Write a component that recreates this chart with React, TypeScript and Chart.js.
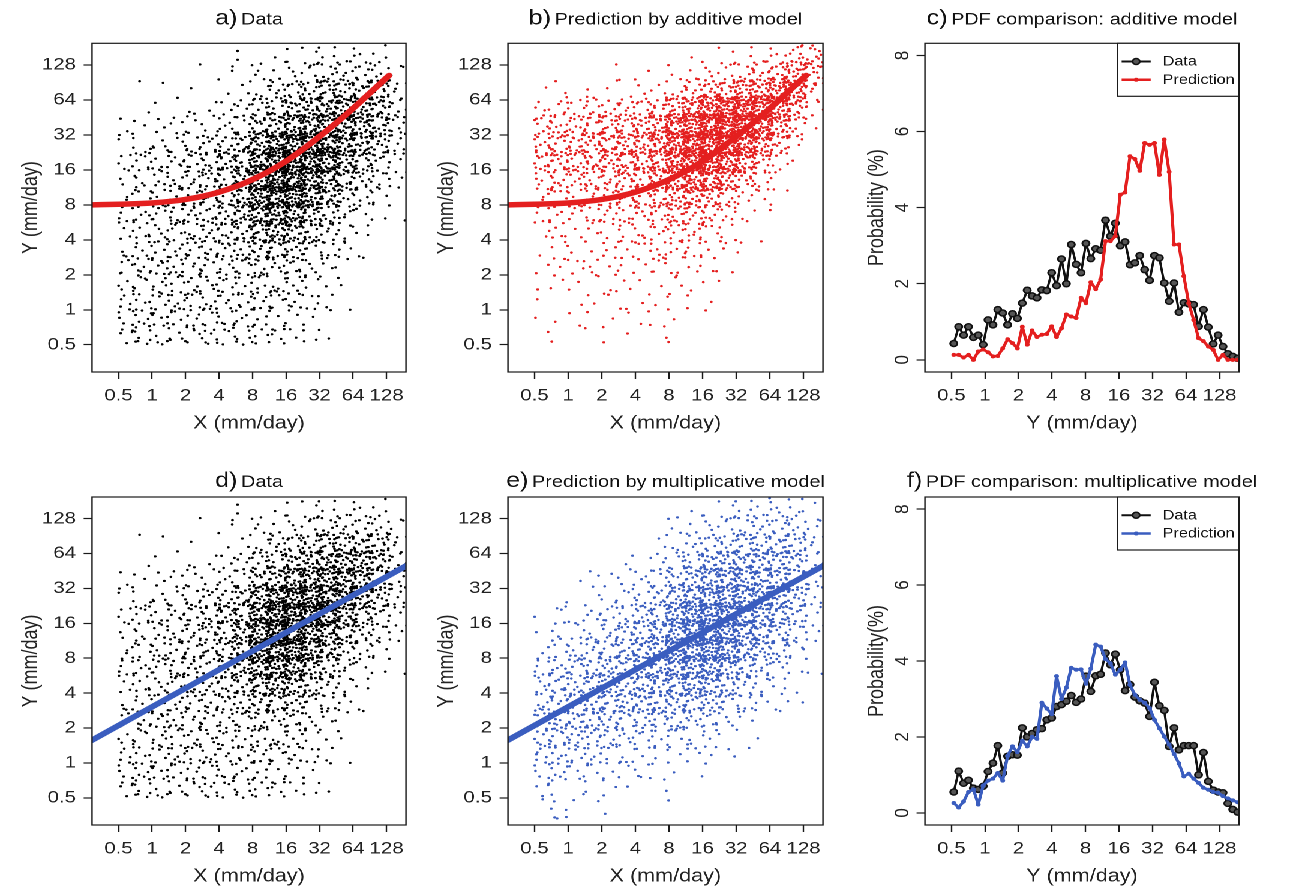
import React, { useEffect, useRef } from "react";
import { Chart, registerables } from "chart.js";

Chart.register(...registerables);

const FONT = "'Liberation Sans', Arial, Helvetica, sans-serif";
Chart.defaults.font.family = FONT;
Chart.defaults.color = "#222";

// ---------------- data ----------------
const LOG_TICKS = [0.5, 1, 2, 4, 8, 16, 32, 64, 128];
const PROB_TICKS = [0, 2, 4, 6, 8];

// 2-D histogram of the scatter clouds (counts per cell)
const X_BIN_EDGES = [0.5, 0.707, 1, 1.414, 2, 2.83, 4, 5.66, 8, 11.3, 16, 22.6, 32, 45.3, 64, 90.5, 128, 181];
const Y_BIN_EDGES = [0.25, 0.354, 0.5, 0.707, 1, 1.414, 2, 2.83, 4, 5.66, 8, 11.3, 16, 22.6, 32, 45.3, 64, 90.5, 128, 181];
const DATA_FLOOR = 0.5; // observed values start at 0.5 mm/day

// rows: top (128-181) to bottom (0.25-0.35); columns: x bins left to right
const DATA_COUNTS = [
  [0, 0, 0, 0, 0, 0, 1, 1, 1, 2, 2, 3, 3, 3, 3, 3, 2],
  [0, 0, 1, 0, 1, 0, 1, 2, 3, 4, 6, 7, 9, 9, 9, 8, 4],
  [0, 1, 0, 1, 1, 1, 2, 3, 6, 8, 12, 14, 18, 18, 18, 15, 7],
  [1, 1, 1, 1, 2, 2, 3, 5, 10, 14, 20, 24, 28, 28, 26, 20, 9],
  [2, 2, 2, 3, 3, 4, 6, 8, 16, 21, 30, 34, 36, 32, 27, 20, 9],
  [4, 4, 5, 6, 7, 8, 11, 15, 30, 39, 47, 50, 46, 30, 23, 16, 7],
  [4, 5, 6, 7, 9, 10, 14, 20, 38, 50, 53, 50, 42, 26, 17, 11, 5],
  [5, 5, 6, 8, 9, 11, 15, 23, 42, 55, 54, 42, 32, 18, 12, 7, 3],
  [5, 6, 7, 8, 9, 10, 14, 22, 40, 50, 46, 32, 22, 12, 7, 4, 2],
  [5, 6, 7, 8, 9, 10, 13, 18, 32, 38, 34, 23, 14, 8, 4, 2, 1],
  [5, 6, 7, 8, 8, 9, 11, 15, 23, 26, 22, 15, 9, 5, 2, 1, 0],
  [5, 6, 7, 7, 8, 8, 9, 10, 13, 14, 12, 8, 6, 3, 1, 0, 0],
  [5, 6, 7, 7, 7, 7, 8, 8, 9, 9, 8, 6, 4, 2, 1, 0, 0],
  [6, 6, 7, 7, 7, 7, 7, 7, 7, 7, 6, 4, 3, 1, 0, 0, 0],
  [6, 6, 6, 7, 6, 6, 6, 6, 6, 6, 5, 3, 2, 1, 0, 0, 0],
  [6, 6, 6, 6, 6, 6, 6, 6, 6, 5, 4, 3, 1, 0, 0, 0, 0],
  [6, 6, 6, 6, 6, 6, 6, 6, 5, 5, 4, 2, 1, 0, 0, 0, 0],
  [0, 0, 0, 0, 0, 0, 0, 0, 0, 0, 0, 0, 0, 0, 0, 0, 0],
  [0, 0, 0, 0, 0, 0, 0, 0, 0, 0, 0, 0, 0, 0, 0, 0, 0],
];

const ADDITIVE_COUNTS = [
  [0, 0, 0, 0, 0, 0, 0, 0, 0, 1, 1, 1, 2, 3, 3, 10, 17],
  [0, 0, 0, 0, 1, 1, 1, 1, 2, 3, 5, 7, 9, 12, 16, 30, 18],
  [1, 2, 2, 2, 2, 2, 3, 4, 7, 12, 18, 24, 30, 34, 36, 34, 10],
  [5, 6, 7, 8, 8, 9, 11, 14, 24, 37, 52, 60, 62, 55, 40, 22, 4],
  [10, 11, 12, 14, 15, 17, 20, 27, 42, 55, 68, 72, 66, 50, 30, 10, 1],
  [12, 13, 15, 17, 19, 21, 24, 31, 50, 62, 68, 64, 50, 32, 15, 3, 0],
  [11, 12, 14, 16, 17, 19, 22, 29, 46, 56, 56, 46, 30, 15, 6, 1, 0],
  [9, 10, 11, 12, 13, 15, 18, 23, 36, 42, 38, 27, 15, 6, 2, 0, 0],
  [6, 7, 8, 9, 10, 11, 13, 16, 21, 23, 19, 12, 6, 3, 1, 0, 0],
  [4, 5, 5, 6, 7, 7, 8, 10, 13, 13, 10, 6, 3, 1, 0, 0, 0],
  [3, 3, 4, 4, 5, 5, 6, 7, 9, 8, 6, 3, 2, 1, 0, 0, 0],
  [2, 3, 3, 3, 4, 4, 4, 5, 6, 5, 4, 2, 1, 0, 0, 0, 0],
  [2, 2, 2, 3, 3, 3, 3, 3, 4, 3, 2, 1, 0, 0, 0, 0, 0],
  [2, 2, 2, 2, 2, 2, 2, 3, 3, 2, 1, 1, 0, 0, 0, 0, 0],
  [1, 1, 2, 2, 2, 2, 2, 2, 2, 1, 1, 0, 0, 0, 0, 0, 0],
  [1, 1, 1, 1, 1, 1, 1, 1, 1, 1, 0, 0, 0, 0, 0, 0, 0],
  [1, 1, 1, 1, 1, 1, 1, 1, 1, 0, 0, 0, 0, 0, 0, 0, 0],
  [0, 0, 0, 0, 0, 0, 0, 0, 0, 0, 0, 0, 0, 0, 0, 0, 0],
  [0, 0, 0, 0, 0, 0, 0, 0, 0, 0, 0, 0, 0, 0, 0, 0, 0],
];

const MULTIPLICATIVE_COUNTS = [
  [0, 0, 0, 0, 0, 0, 0, 0, 1, 1, 2, 3, 4, 5, 6, 5, 3],
  [0, 0, 0, 0, 0, 0, 0, 1, 2, 3, 5, 7, 8, 9, 9, 9, 5],
  [0, 0, 0, 0, 0, 0, 1, 2, 4, 7, 10, 13, 14, 14, 14, 12, 6],
  [0, 0, 0, 0, 1, 1, 2, 4, 7, 12, 18, 21, 22, 20, 18, 15, 7],
  [0, 0, 1, 1, 2, 3, 4, 7, 13, 20, 27, 29, 28, 25, 21, 16, 7],
  [0, 1, 1, 2, 3, 5, 8, 12, 20, 29, 35, 36, 33, 27, 21, 15, 6],
  [1, 2, 3, 4, 6, 8, 12, 17, 31, 41, 47, 46, 34, 26, 19, 12, 5],
  [2, 3, 5, 7, 9, 12, 16, 22, 36, 46, 49, 44, 31, 22, 15, 9, 3],
  [4, 5, 7, 10, 12, 15, 19, 24, 38, 45, 45, 38, 24, 16, 10, 6, 2],
  [5, 8, 10, 12, 15, 17, 20, 24, 30, 33, 31, 25, 17, 11, 6, 3, 1],
  [8, 10, 12, 14, 16, 17, 18, 20, 24, 25, 22, 16, 11, 6, 3, 2, 1],
  [9, 11, 13, 14, 15, 15, 15, 15, 17, 16, 14, 9, 6, 3, 2, 1, 0],
  [10, 11, 12, 12, 12, 11, 11, 10, 11, 10, 7, 5, 3, 1, 1, 0, 0],
  [9, 10, 10, 10, 9, 8, 7, 6, 6, 5, 4, 2, 1, 1, 0, 0, 0],
  [8, 8, 7, 6, 5, 5, 4, 3, 3, 2, 2, 1, 0, 0, 0, 0, 0],
  [6, 5, 5, 4, 3, 2, 2, 1, 1, 1, 1, 0, 0, 0, 0, 0, 0],
  [4, 3, 3, 2, 2, 1, 1, 1, 1, 0, 0, 0, 0, 0, 0, 0, 0],
  [2, 2, 1, 1, 1, 0, 0, 0, 0, 0, 0, 0, 0, 0, 0, 0, 0],
  [1, 1, 1, 0, 0, 0, 0, 0, 0, 0, 0, 0, 0, 0, 0, 0, 0],
];

// fitted model lines
const ADDITIVE_FIT_X = [0.29, 0.5, 1, 2, 4, 8, 16, 32, 64, 100, 135];
const ADDITIVE_FIT_Y = [8.0, 8.1, 8.3, 8.9, 10.3, 13.2, 19, 31, 54, 80, 104];
const MULT_FIT_X = [0.289, 191];
const MULT_FIT_Y = [1.57, 50];

// PDF comparison (bin centres in mm/day, probability in %)
const PDF_BINS = [
  0.525, 0.581, 0.643, 0.711, 0.787, 0.871, 0.964, 1.066, 1.18, 1.305,
  1.444, 1.598, 1.768, 1.957, 2.165, 2.396, 2.651, 2.934, 3.246, 3.592,
  3.975, 4.398, 4.867, 5.385, 5.959, 6.594, 7.296, 8.073, 8.933, 9.885,
  10.94, 12.1, 13.39, 14.82, 16.4, 18.14, 20.08, 22.21, 24.58, 27.2,
  30.1, 33.3, 36.85, 40.78, 45.12, 49.93, 55.25, 61.13, 67.65, 74.85,
  82.83, 91.65, 101.4, 112.2, 124.2, 137.4, 152.0, 168.2, 186.1,
];
const PDF_ADD_DATA = [
  0.43, 0.87, 0.65, 0.87, 0.59, 0.65, 0.4, 1.05, 0.92, 1.32,
  1.23, 0.92, 1.21, 1.09, 1.49, 1.83, 1.68, 1.63, 1.84, 1.82,
  2.29, 1.95, 2.65, 2.0, 3.03, 2.51, 2.29, 3.06, 2.66, 2.92,
  2.88, 3.67, 3.25, 3.59, 3.0, 3.1, 2.5, 2.55, 2.74, 2.37,
  2.09, 2.74, 2.68, 2.02, 1.54, 2.02, 1.25, 1.5, 1.47, 1.45,
  0.88, 1.32, 0.86, 0.42, 0.65, 0.35, 0.16, 0.09, 0.04,
];
const PDF_ADD_PRED = [
  0.13, 0.13, 0.06, 0.13, 0.0, 0.22, 0.27, 0.2, 0.09, 0.1,
  0.3, 0.54, 0.44, 0.3, 0.87, 0.4, 0.77, 0.6, 0.66, 0.68,
  0.88, 0.6, 0.83, 1.19, 1.14, 1.1, 1.63, 1.49, 2.04, 1.86,
  2.11, 3.12, 3.12, 3.25, 4.34, 4.4, 5.35, 5.28, 4.97, 5.7,
  5.65, 5.7, 4.86, 5.79, 4.94, 3.03, 3.03, 2.2, 1.49, 1.05,
  0.57, 0.49, 0.35, 0.26, 0.0, 0.13, 0.0, 0.0, 0.0,
];
const PDF_MULT_DATA = [
  0.55, 1.1, 0.78, 0.86, 0.65, 0.62, 0.7, 1.09, 1.31, 1.77,
  1.05, 1.49, 1.53, 1.52, 2.24, 2.0, 2.09, 2.19, 2.22, 2.45,
  2.5, 2.8, 2.85, 2.94, 3.09, 2.91, 3.0, 3.6, 3.2, 3.61,
  3.65, 4.21, 3.9, 4.18, 3.77, 3.22, 3.38, 3.05, 2.95, 2.89,
  2.54, 3.44, 2.82, 2.7, 1.75, 2.24, 1.66, 1.77, 1.77, 1.77,
  1.0, 1.59, 0.83, 0.6, 0.55, 0.53, 0.25, 0.09, 0.02,
];
const PDF_MULT_PRED = [
  0.26, 0.14, 0.3, 0.55, 0.62, 0.22, 0.72, 0.85, 0.9, 1.05,
  0.85, 1.5, 1.75, 1.6, 1.9, 1.75, 2.0, 1.95, 2.9, 2.75,
  2.6, 3.6, 3.0, 3.3, 3.82, 3.77, 3.78, 3.4, 3.8, 4.43,
  4.38, 4.05, 3.94, 3.64, 3.77, 3.96, 3.37, 3.11, 2.98, 2.9,
  2.76, 2.45, 2.23, 2.01, 1.8, 1.55, 1.3, 0.96, 1.03, 0.9,
  0.79, 0.66, 0.61, 0.55, 0.53, 0.44, 0.38, 0.33, 0.28,
];

// axis ranges
const X_MIN = 0.2892;
const X_MAX = 191.3;
const Y_MIN = 0.2912;
const Y_MAX = 196.7;
const P_MIN = -0.32;
const P_MAX = 8.32;

// ---------------- styles / layout ----------------
const RED = "#e41f1f";
const BLUE = "#3a5dbf";
const INK = "#1a1a1a";
const STRETCH = 1.2;

const COLS = [
  { left: 0, boxLeft: 76.7, boxRight: 338.3, yTitlePad: 15 },
  { left: 360, boxLeft: 63.3, boxRight: 325.8, yTitlePad: 1.7 },
  { left: 720, boxLeft: 50.8, boxRight: 312.5, yTitlePad: 0 },
];
const ROWS = [
  { top: 0, h: 446, boxTop: 43.3, boxBottom: 372, titleBase: 24.5, xTitlePad: 11.7 },
  { top: 446, h: 447, boxTop: 51, boxBottom: 379, titleBase: 41, xTitlePad: 5.7 },
];
const CW = 360;

function halton(index: number, base: number) {
  let f = 1;
  let r = 0;
  let i = index;
  while (i > 0) {
    f /= base;
    r += f * (i % base);
    i = Math.floor(i / base);
  }
  return r;
}

// spread the counted points of each histogram cell over that cell (slightly
// overlapping its neighbours so cell borders do not show)
function cloudPoints(counts: number[][], yFloor: number | null) {
  const pts: { x: number; y: number }[] = [];
  const nRows = counts.length;
  const lxFloor = Math.log2(X_BIN_EDGES[0]);
  const lyFloor = yFloor == null ? -Infinity : Math.log2(yFloor);
  counts.forEach((row, r) => {
    const j = nRows - 1 - r;
    row.forEach((n, i) => {
      const lx0 = Math.log2(X_BIN_EDGES[i]);
      const lx1 = Math.log2(X_BIN_EDGES[i + 1]);
      const ly0 = Math.log2(Y_BIN_EDGES[j]);
      const ly1 = Math.log2(Y_BIN_EDGES[j + 1]);
      const start = 1 + ((i * 37 + j * 61) % 211);
      for (let m = 0; m < n; m++) {
        const u = -0.22 + 1.44 * halton(start + m, 2);
        const v = -0.22 + 1.44 * halton(start + m, 3);
        let lx = lx0 + u * (lx1 - lx0);
        let ly = ly0 + v * (ly1 - ly0);
        if (lx < lxFloor) lx = 2 * lxFloor - lx;
        if (ly < lyFloor) ly = 2 * lyFloor - ly;
        pts.push({ x: 2 ** lx, y: 2 ** ly });
      }
    });
  });
  return pts;
}

type Spec = {
  col: number;
  row: number;
  prefix: string;
  title: string;
  xTitle: string;
  yTitle: string;
  pdf?: boolean;
  legendColor?: string;
};

function decorPlugin(spec: Spec) {
  const row = ROWS[spec.row];
  return {
    id: "decor",
    afterDraw(chart: any) {
      const { ctx, chartArea: a } = chart;
      ctx.save();
      ctx.strokeStyle = INK;
      ctx.lineWidth = 1.2;
      ctx.strokeRect(a.left, a.top, a.right - a.left, a.bottom - a.top);
      // title
      ctx.fillStyle = "#111";
      ctx.textBaseline = "alphabetic";
      ctx.textAlign = "left";
      const f1 = `21px ${FONT}`;
      const f2 = `16.5px ${FONT}`;
      ctx.font = f1;
      const w1 = ctx.measureText(spec.prefix).width;
      ctx.font = f2;
      const w2 = ctx.measureText(spec.title).width;
      const gap = 3;
      const x0 = (a.left + a.right) / 2 - (w1 + gap + w2) / 2;
      ctx.font = f1;
      ctx.fillText(spec.prefix, x0, row.titleBase);
      ctx.font = f2;
      ctx.fillText(spec.title, x0 + w1 + gap, row.titleBase);
      if (spec.pdf) {
        const ys = chart.scales.y;
        ctx.font = `17px ${FONT}`;
        ctx.fillStyle = "#222";
        ctx.textAlign = "center";
        ctx.textBaseline = "middle";
        PROB_TICKS.forEach((v) => {
          const py = ys.getPixelForValue(v);
          ctx.save();
          ctx.translate(a.left - 18.3, py);
          ctx.rotate(-Math.PI / 2);
          ctx.fillText(String(v), 0, 0);
          ctx.restore();
        });
        // legend
        const lw = 101.1;
        const lh = 53;
        const lx = a.right - lw;
        const ly = a.top;
        ctx.fillStyle = "#fff";
        ctx.fillRect(lx, ly, lw, lh);
        ctx.strokeStyle = INK;
        ctx.lineWidth = 1.2;
        ctx.strokeRect(lx, ly, lw, lh);
        const rowsY = [ly + 18.2, ly + 36.5];
        const items = [
          { label: "Data", color: "#111", r: 3, fill: "#555", lwid: 2 },
          { label: "Prediction", color: spec.legendColor || RED, r: 2, fill: spec.legendColor || RED, lwid: 2.5 },
        ];
        items.forEach((it, k) => {
          const yy = rowsY[k];
          ctx.strokeStyle = it.color;
          ctx.lineWidth = it.lwid;
          ctx.beginPath();
          ctx.moveTo(lx + 3.3, yy);
          ctx.lineTo(lx + 27.5, yy);
          ctx.stroke();
          ctx.beginPath();
          ctx.arc(lx + 15.4, yy, it.r, 0, Math.PI * 2);
          ctx.fillStyle = it.fill;
          ctx.fill();
          if (k === 0) {
            ctx.lineWidth = 1.5;
            ctx.strokeStyle = "#111";
            ctx.stroke();
          }
          ctx.fillStyle = "#111";
          ctx.font = `13.5px ${FONT}`;
          ctx.textAlign = "left";
          ctx.textBaseline = "middle";
          ctx.fillText(it.label, lx + 37.5, yy + 0.5);
        });
      }
      ctx.restore();
    },
  };
}

function baseOptions(spec: Spec) {
  const col = COLS[spec.col];
  const row = ROWS[spec.row];
  const tickFont = { size: 17, family: FONT };
  const titleFont = { size: 18, family: FONT };
  const grid = {
    display: true,
    drawOnChartArea: false,
    drawTicks: true,
    tickLength: 7,
    tickColor: INK,
    tickWidth: 1.2,
  };
  const yScale: any = spec.pdf
    ? {
        type: "linear",
        min: P_MIN,
        max: P_MAX,
        afterBuildTicks: (s: any) => {
          s.ticks = PROB_TICKS.map((v) => ({ value: v }));
        },
        ticks: { display: false },
      }
    : {
        type: "logarithmic",
        min: Y_MIN,
        max: Y_MAX,
        afterBuildTicks: (s: any) => {
          s.ticks = LOG_TICKS.map((v) => ({ value: v }));
        },
        ticks: { callback: (v: any) => String(v), font: tickFont, color: "#222", padding: 6.4, autoSkip: false },
      };
  return {
    responsive: false,
    animation: false,
    devicePixelRatio: 2,
    events: [],
    layout: { padding: { left: 0, top: row.boxTop, right: CW - col.boxRight, bottom: 0 } },
    plugins: { legend: { display: false }, tooltip: { enabled: false }, title: { display: false } },
    scales: {
      x: {
        type: "logarithmic",
        position: "bottom",
        min: X_MIN,
        max: X_MAX,
        afterBuildTicks: (s: any) => {
          s.ticks = LOG_TICKS.map((v) => ({ value: v }));
        },
        afterFit: (s: any) => {
          s.height = row.h - row.boxBottom;
        },
        ticks: { callback: (v: any) => String(v), font: tickFont, color: "#222", padding: 6.7, maxRotation: 0, minRotation: 0, autoSkip: false },
        grid,
        border: { display: false },
        title: { display: true, text: spec.xTitle, font: titleFont, color: "#222", padding: { top: 0, bottom: row.xTitlePad } },
      },
      y: {
        ...yScale,
        position: "left",
        afterFit: (s: any) => {
          s.width = col.boxLeft;
        },
        grid,
        border: { display: false },
        title: { display: true, text: spec.yTitle, font: titleFont, color: "#222", padding: { top: col.yTitlePad, bottom: 0 } },
      },
    },
  };
}

function scatterConfig(spec: Spec, counts: number[][], yFloor: number | null, color: string, fx: number[], fy: number[], fitColor: string) {
  return {
    type: "scatter",
    data: {
      datasets: [
        {
          data: fx.map((x, i) => ({ x, y: fy[i] })),
          showLine: true,
          borderColor: fitColor,
          borderWidth: 5.5,
          borderCapStyle: "round",
          borderJoinStyle: "round",
          pointRadius: 0,
          cubicInterpolationMode: "monotone",
          order: 0,
        },
        {
          data: cloudPoints(counts, yFloor),
          pointRadius: 1.2,
          pointBackgroundColor: color,
          pointBorderWidth: 0,
          order: 1,
        },
      ],
    },
    options: baseOptions(spec),
    plugins: [decorPlugin(spec)],
  };
}

function pdfConfig(spec: Spec, dataVals: number[], predVals: number[], predColor: string) {
  return {
    type: "scatter",
    data: {
      datasets: [
        {
          data: PDF_BINS.map((x, i) => ({ x, y: predVals[i] })),
          showLine: true,
          borderColor: predColor,
          borderWidth: 2.6,
          borderJoinStyle: "round",
          pointRadius: 2,
          pointBackgroundColor: predColor,
          pointBorderWidth: 0,
          order: 0,
        },
        {
          data: PDF_BINS.map((x, i) => ({ x, y: dataVals[i] })),
          showLine: true,
          borderColor: "#111",
          borderWidth: 2,
          borderJoinStyle: "round",
          pointRadius: 3,
          pointBackgroundColor: "#555",
          pointBorderColor: "#111",
          pointBorderWidth: 1.5,
          order: 1,
        },
      ],
    },
    options: baseOptions(spec),
    plugins: [decorPlugin(spec)],
  };
}

function Panel({ spec, build }: { spec: Spec; build: () => any }) {
  const ref = useRef<HTMLCanvasElement>(null);
  const col = COLS[spec.col];
  const row = ROWS[spec.row];
  useEffect(() => {
    const chart = new Chart(ref.current as HTMLCanvasElement, build());
    return () => chart.destroy();
  }, []);
  return (
    <canvas
      ref={ref}
      width={CW}
      height={row.h}
      style={{ position: "absolute", left: col.left, top: row.top, width: CW, height: row.h }}
    />
  );
}

const SPECS: Spec[] = [
  { col: 0, row: 0, prefix: "a)", title: "Data", xTitle: "X (mm/day)", yTitle: "Y (mm/day)" },
  { col: 1, row: 0, prefix: "b)", title: "Prediction by additive model", xTitle: "X (mm/day)", yTitle: "Y (mm/day)" },
  { col: 2, row: 0, prefix: "c)", title: "PDF comparison: additive model", xTitle: "Y (mm/day)", yTitle: "Probability (%)", pdf: true, legendColor: RED },
  { col: 0, row: 1, prefix: "d)", title: "Data", xTitle: "X (mm/day)", yTitle: "Y (mm/day)" },
  { col: 1, row: 1, prefix: "e)", title: "Prediction by multiplicative model", xTitle: "X (mm/day)", yTitle: "Y (mm/day)" },
  { col: 2, row: 1, prefix: "f)", title: "PDF comparison: multiplicative model", xTitle: "Y (mm/day)", yTitle: "Probability(%)", pdf: true, legendColor: BLUE },
];

export default function App() {
  return (
    <div style={{ position: "fixed", left: 0, top: 0, width: 1296, height: 893, background: "#fff", overflow: "hidden" }}>
      <div
        style={{
          position: "absolute",
          left: 0,
          top: 0,
          width: CW * 3,
          height: 893,
          transform: `scaleX(${STRETCH})`,
          transformOrigin: "0 0",
        }}
      >
        <Panel spec={SPECS[0]} build={() => scatterConfig(SPECS[0], DATA_COUNTS, DATA_FLOOR, "#000", ADDITIVE_FIT_X, ADDITIVE_FIT_Y, RED)} />
        <Panel spec={SPECS[1]} build={() => scatterConfig(SPECS[1], ADDITIVE_COUNTS, DATA_FLOOR, RED, ADDITIVE_FIT_X, ADDITIVE_FIT_Y, RED)} />
        <Panel spec={SPECS[2]} build={() => pdfConfig(SPECS[2], PDF_ADD_DATA, PDF_ADD_PRED, RED)} />
        <Panel spec={SPECS[3]} build={() => scatterConfig(SPECS[3], DATA_COUNTS, DATA_FLOOR, "#000", MULT_FIT_X, MULT_FIT_Y, BLUE)} />
        <Panel spec={SPECS[4]} build={() => scatterConfig(SPECS[4], MULTIPLICATIVE_COUNTS, null, BLUE, MULT_FIT_X, MULT_FIT_Y, BLUE)} />
        <Panel spec={SPECS[5]} build={() => pdfConfig(SPECS[5], PDF_MULT_DATA, PDF_MULT_PRED, BLUE)} />
      </div>
    </div>
  );
}
